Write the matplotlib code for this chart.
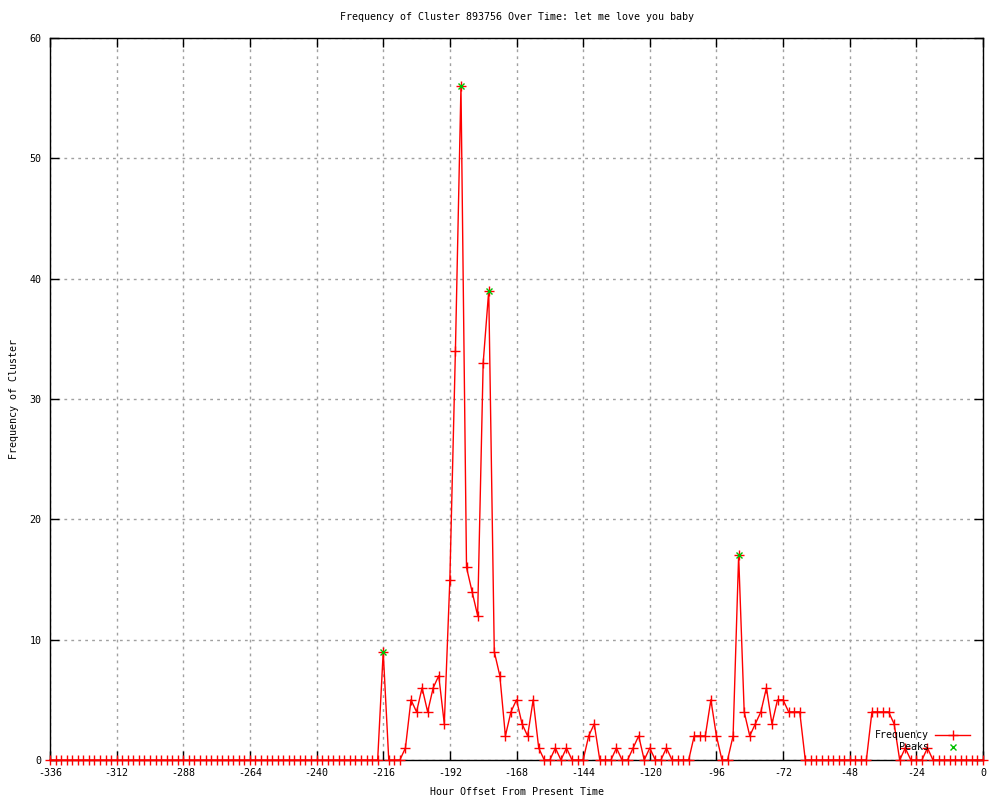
# Frequency of a cluster over time, gnuplot style png
import numpy as np
import matplotlib
matplotlib.use("Agg")
import matplotlib.pyplot as plt

plt.rcParams['font.family'] = ['DejaVu Sans Mono']

# hour offsets, one point every 2 hours
hours = np.arange(-336, 1, 2)

freq = [0]*60 + \
       [9, 0, 0, 0, 1, 5, 4, 6, 4, 6, 7, 3] + \
       [15, 34, 56, 16, 14, 12, 33, 39, 9, 7, 2, 4, 5, 3, 2, 5, 1] + \
       [0, 0, 1, 0, 1, 0, 0, 0, 2, 3, 0, 0, 0, 1, 0] + \
       [0, 1, 2, 0, 1, 0, 0, 1, 0, 0, 0, 0, 2, 2, 2, 5, 2] + \
       [0, 0, 2, 17, 4, 2, 3, 4, 6, 3, 5, 5, 4, 4, 4, 0] + \
       [0]*11 + \
       [4, 4, 4, 4, 3, 0, 1, 0, 0, 0, 1, 0] + \
       [0]*9

peak_hours = [-216, -188, -178, -88]
peak_vals = [9, 56, 39, 17]

xticks = list(range(-336, 1, 24))
yticks = list(range(0, 61, 10))

fig = plt.figure(figsize=(10, 8), dpi=100)
ax = fig.add_axes([0.05, 0.05, 0.933, 0.9025])

ax.plot(hours, freq, color='#ff0000', lw=1, marker='+', ms=7, mew=1,
        label='Frequency', clip_on=False, zorder=3)
ax.plot(peak_hours, peak_vals, ls='none', marker='x', ms=5, mew=1,
        color='#00c000', label='Peaks', clip_on=False, zorder=4)

ax.set_xlim(-336, 0)
ax.set_ylim(0, 60)
ax.set_xticks(xticks)
ax.set_yticks(yticks)
ax.set_xticklabels(['%d' % t for t in xticks])
ax.tick_params(direction='in', length=6.5, width=1, top=True, right=True,
               labelsize=7.2, colors='black', pad=6)
ax.grid(True, color='#a0a0a0', ls=(0, (2, 3)), lw=1)
ax.set_axisbelow(True)
for s in ax.spines.values():
    s.set_color('black')
    s.set_linewidth(1)

ax.set_title('Frequency of Cluster 893756 Over Time: let me love you baby',
             fontsize=7.2, pad=13)
ax.set_xlabel('Hour Offset From Present Time', fontsize=7.2, labelpad=6)
ax.set_ylabel('Frequency of Cluster', fontsize=7.2)
ax.yaxis.set_label_coords(-31 / 933, 0.5)

ax.legend(loc='lower right', bbox_to_anchor=(0.995, 0.0), frameon=False,
          markerfirst=False, fontsize=7.2, handlelength=3.5,
          handletextpad=0.6, labelspacing=0.15, borderpad=0.3)

fig.savefig('out.png', dpi=100)
